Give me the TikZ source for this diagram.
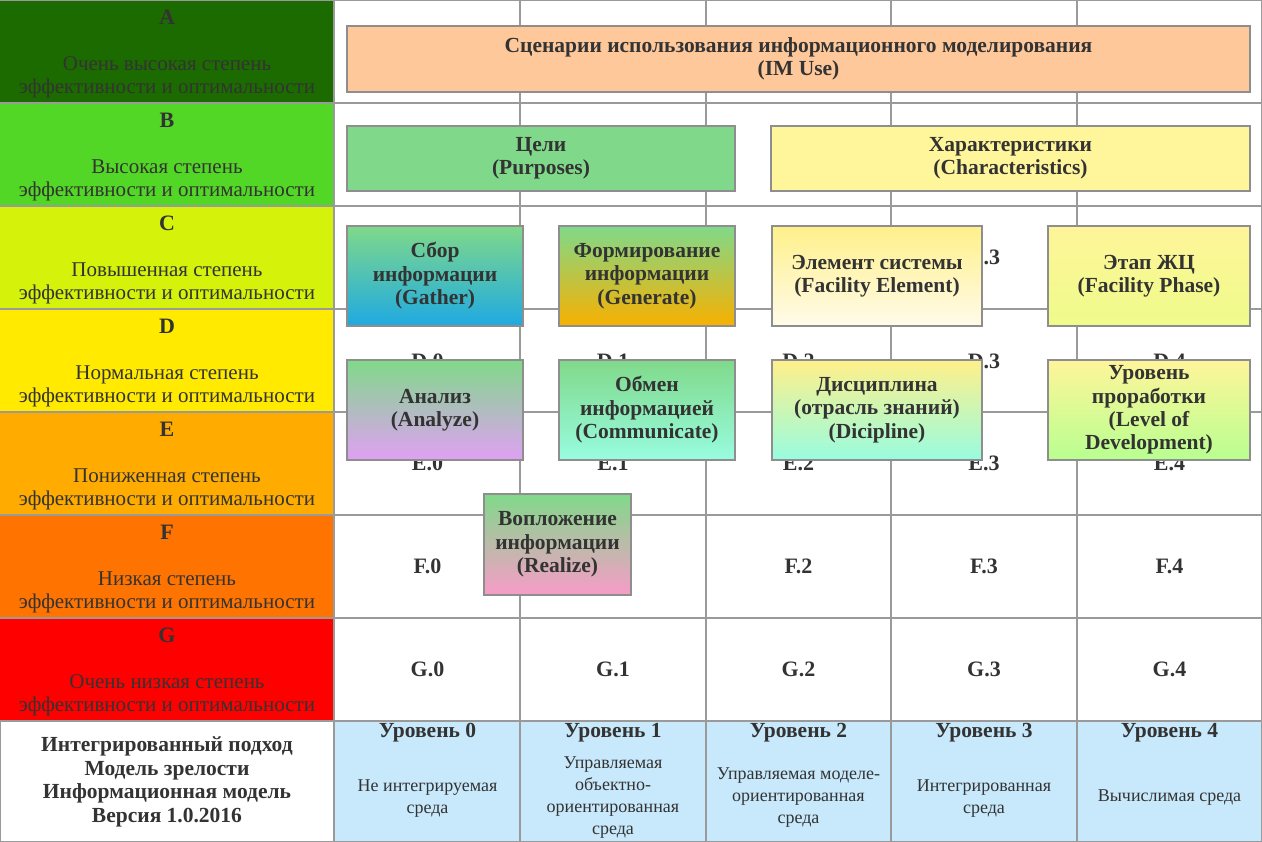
\documentclass[tikz,border=0pt]{standalone}
\usepackage{fontspec}
\setmainfont{Liberation Serif}
\definecolor{txt}{HTML}{333333}
\definecolor{gridc}{HTML}{9A9A9A}
\definecolor{bord}{HTML}{8E8E8E}
\definecolor{cA}{HTML}{1C6B00}
\definecolor{cB}{HTML}{52D726}
\definecolor{cC}{HTML}{D4F20A}
\definecolor{cD}{HTML}{FFEA00}
\definecolor{cE}{HTML}{FFAB00}
\definecolor{cF}{HTML}{FF7300}
\definecolor{cG}{HTML}{FF0000}
\definecolor{lvl}{HTML}{C8E9FB}
\definecolor{peach}{HTML}{FFC89B}
\definecolor{gr}{HTML}{80D98A}
\definecolor{yl}{HTML}{FFF59A}
\definecolor{yl2}{HTML}{FFF08A}
\definecolor{blu}{HTML}{1EA9E1}
\definecolor{ora}{HTML}{F8B000}
\definecolor{wht}{HTML}{FFFBEA}
\definecolor{ylg}{HTML}{EEFB8A}
\definecolor{vio}{HTML}{E0A0F4}
\definecolor{aqua}{HTML}{98FCE0}
\definecolor{lgr}{HTML}{B8FF90}
\definecolor{pink}{HTML}{F89CC8}
\newcommand\boxfnt{\bfseries\fontsize{21.5}{23.5}\selectfont}
\newcommand\cellfnt{\bfseries\fontsize{22}{22}\selectfont}
\newcommand\descfnt{\fontsize{21}{23}\selectfont}
\newcommand\lvlfnt{\fontsize{18}{22}\selectfont}
\tikzset{
  gridline/.style={draw=gridc, line width=1.5pt},
  infobox/.style={draw=bord, line width=1.2pt, align=center, inner sep=0pt, text=txt, font=\boxfnt},
  celllbl/.style={text=txt, font=\cellfnt, inner sep=0pt},
  rowletter/.style={text=txt, font=\cellfnt, inner sep=0pt},
  rowdesc/.style={text=txt, font=\descfnt, align=center, inner sep=0pt},
  lvlhead/.style={text=txt, font=\bfseries\fontsize{21.5}{22}\selectfont, inner sep=0pt},
  lvldesc/.style={text=txt, font=\lvlfnt, align=center, inner sep=0pt},
}
\begin{document}
\begin{tikzpicture}[x=1pt,y=-1pt]
\useasboundingbox (0,0) rectangle (1262,842);
\fill[white] (0,0) rectangle (1262,842);
% left column
\foreach \i/\L/\c/\t in {0/A/cA/Очень высокая степень,1/B/cB/Высокая степень,2/C/cC/Повышенная степень,3/D/cD/Нормальная степень,4/E/cE/Пониженная степень,5/F/cF/Низкая степень,6/G/cG/Очень низкая степень}{
  \fill[\c] (0,\i*103) rectangle (334,\i*103+103);
  \node[rowletter] (L\L) at (167,\i*103+17) {\L};
  \node[rowdesc] (T\L) at (167,\i*103+77) {\t\\эффективности и оптимальности};
}
% level row
\fill[lvl] (335,721) rectangle (1262,842);
% grid
\foreach \y in {103,206,309,412,515,618,721}{\draw[gridline] (0,\y) -- (1262,\y);}
\foreach \x in {334,520,706,891,1077}{\draw[gridline] (\x,0) -- (\x,842);}
\draw[gridline] (0,0.7) -- (1262,0.7);
\draw[gridline] (0,841.3) -- (1262,841.3);
\draw[gridline] (1261.3,0) -- (1261.3,842);
\draw[gridline] (0.7,721) -- (0.7,842);
% cell labels
\node[celllbl] (C3) at (984,257.5) {C.3};
\foreach \n/\x in {0/427.5,1/613,2/798.5,3/984,4/1169.5}{
  \node[celllbl] (D\n) at (\x,361) {D.\n};
  \node[celllbl] (E\n) at (\x,463.5) {E.\n};
  \node[celllbl] (G\n) at (\x,669.5) {G.\n};
}
\foreach \n/\x in {0/427.5,2/798.5,3/984,4/1169.5}{
  \node[celllbl] (F\n) at (\x,566.5) {F.\n};
}
% boxes
\node[infobox, fill=peach, minimum width=903pt, minimum height=66pt] (imuse) at (798.5,59) {Сценарии использования информационного моделирования\\(IM Use)};
\node[infobox, fill=gr, minimum width=388pt, minimum height=65pt] (purp) at (541,158.5) {Цели\\(Purposes)};
\node[infobox, fill=yl, minimum width=479pt, minimum height=65pt] (char) at (1010.5,158.5) {Характеристики\\(Characteristics)};
\node[infobox, top color=gr, bottom color=blu, minimum width=176pt, minimum height=100pt] (gather) at (435,276) {Сбор\\информации\\(Gather)};
\node[infobox, top color=gr, bottom color=ora, minimum width=176pt, minimum height=100pt] (gen) at (647,276) {Формирование\\информации\\(Generate)};
\node[infobox, top color=yl2, bottom color=wht, minimum width=210pt, minimum height=100pt] (fel) at (877,276) {Элемент системы\\(Facility Element)};
\node[infobox, top color=yl, bottom color=ylg, minimum width=202pt, minimum height=100pt] (fph) at (1149,276) {Этап ЖЦ\\(Facility Phase)};
\node[infobox, top color=gr, bottom color=vio, minimum width=176pt, minimum height=100pt] (ana) at (435,410) {Анализ\\(Analyze)};
\node[infobox, top color=gr, bottom color=aqua, minimum width=176pt, minimum height=100pt] (comm) at (647,410) {Обмен\\информацией\\(Communicate)};
\node[infobox, top color=yl2, bottom color=aqua, minimum width=210pt, minimum height=100pt] (disc) at (877,410) {Дисциплина\\(отрасль знаний)\\(Dicipline)};
\node[infobox, top color=yl, bottom color=lgr, minimum width=202pt, minimum height=100pt, font=\bfseries\fontsize{21.5}{23.2}\selectfont] (lod) at (1149,410) {Уровень\\проработки\\(Level of\\Development)};
\node[infobox, top color=gr, bottom color=pink, minimum width=147pt, minimum height=101pt] (real) at (557.5,544.5) {Вопложение\\информации\\(Realize)};
% bottom row
\node[text=txt, font=\bfseries\fontsize{21.5}{23.7}\selectfont, align=center, inner sep=0pt] (title) at (167,782) {Интегрированный подход\\Модель зрелости\\Информационная модель\\Версия 1.0.2016};
\node[lvlhead] (h0) at (427.5,733) {Уровень 0};
\node[lvlhead] (h1) at (613,733) {Уровень 1};
\node[lvlhead] (h2) at (798.5,733) {Уровень 2};
\node[lvlhead] (h3) at (984,733) {Уровень 3};
\node[lvlhead] (h4) at (1169.5,733) {Уровень 4};
\node[lvldesc] (d0) at (427.5,799) {Не интегрируемая\\среда};
\node[lvldesc] (d1) at (613,798) {Управляемая\\объектно-\\ориентированная\\среда};
\node[lvldesc] (d2) at (798.5,798) {Управляемая моделе-\\ориентированная\\среда};
\node[lvldesc] (d3) at (984,799) {Интегрированная\\среда};
\node[lvldesc] (d4) at (1169.5,798) {Вычислимая среда};
\end{tikzpicture}
\end{document}
